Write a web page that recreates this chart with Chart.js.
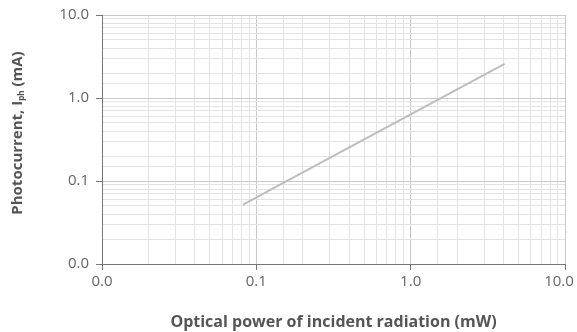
<!DOCTYPE html>
<html>
<head>
<meta charset="utf-8">
<script src="https://cdn.jsdelivr.net/npm/chart.js@4/dist/chart.umd.min.js"></script>
<style>
  html, body { margin: 0; padding: 0; background: #fff; }
  #wrap { width: 577px; height: 332px; }
</style>
</head>
<body>
<div id="wrap"><canvas id="chart"></canvas></div>
<script>
// Optical power (mW) vs photocurrent (mA)
const powerMW = [0.082, 0.2, 0.5, 1.0, 2.0, 4.06];
const currentMA = [0.052, 0.127, 0.318, 0.635, 1.27, 2.58];
const majorTicks = [0.01, 0.1, 1, 10];

const isMajor = v => majorTicks.some(m => Math.abs(v - m) < m * 1e-6);
const FONT = "'Open Sans', sans-serif";

Chart.defaults.font.family = FONT;

// y axis title drawn by hand so that "ph" can be a real subscript
const yTitle = {
    id: 'yTitle',
    afterDraw(chart) {
        const c = chart.ctx;
        const parts = [
            { t: 'Photocurrent, I', f: 'bold 15px ' + FONT, dy: 0 },
            { t: 'ph', f: 'bold 8px ' + FONT, dy: 4 },
            { t: ' (mA)', f: 'bold 15px ' + FONT, dy: 0 }
        ];
        let total = 0;
        parts.forEach(p => { c.font = p.f; p.w = c.measureText(p.t).width; total += p.w; });
        c.save();
        c.translate(18, 133);
        c.rotate(-Math.PI / 2);
        c.fillStyle = '#555';
        c.textBaseline = 'middle';
        c.textAlign = 'left';
        let x = -total / 2;
        parts.forEach(p => {
            c.font = p.f;
            c.fillText(p.t, x, p.dy);
            x += p.w;
        });
        c.restore();
    }
};

// keep the last x label ("10.0") inside the canvas
const keepLastLabel = {
    id: 'keepLastLabel',
    beforeDraw(chart) {
        const items = chart.scales.x.getLabelItems();
        const last = items[items.length - 1];
        if (last && last.options.translation[0] > chart.width - 18) {
            last.options.translation[0] = chart.width - 18;
        }
    }
};

function axisGrid() {
    return {
        color: c => isMajor(c.tick.value) ? '#c9c9c9' : '#e3e3e3',
        tickColor: c => isMajor(c.tick.value) ? '#777' : 'rgba(0,0,0,0)',
        tickLength: 6,
        lineWidth: 1
    };
}

const ctx = document.getElementById('chart').getContext('2d');
const chart = new Chart(ctx, {
    type: 'line',
    data: {
        datasets: [{
            data: powerMW.map((x, i) => ({ x: x, y: currentMA[i] })),
            borderColor: '#bdbdbd',
            borderWidth: 2,
            pointRadius: 0,
            fill: false,
            tension: 0
        }]
    },
    options: {
        responsive: true,
        maintainAspectRatio: false,
        animation: false,
        layout: { padding: { top: 15, right: 12, left: 0, bottom: 0 } },
        plugins: {
            legend: { display: false },
            tooltip: { enabled: false }
        },
        scales: {
            x: {
                type: 'logarithmic',
                min: 0.01,
                max: 10,
                border: { color: '#777', width: 1 },
                grid: axisGrid(),
                ticks: {
                    autoSkip: false,
                    maxRotation: 0,
                    color: '#666',
                    font: { size: 15 },
                    padding: 3,
                    callback: v => isMajor(v) ? v.toFixed(1) : ''
                },
                title: {
                    display: true,
                    text: 'Optical power of incident radiation (mW)',
                    color: '#555',
                    font: { size: 16, weight: 'bold' },
                    padding: { top: 11, bottom: 0 }
                },
                afterFit: s => {
                    s.height = 68;
                    s.paddingLeft = 0;
                    s.paddingRight = 0;
                }
            },
            y: {
                type: 'logarithmic',
                min: 0.01,
                max: 10,
                border: { color: '#777', width: 1 },
                grid: axisGrid(),
                ticks: {
                    autoSkip: false,
                    color: '#666',
                    font: { size: 15 },
                    padding: 7,
                    callback: v => isMajor(v) ? v.toFixed(1) : ''
                },
                afterFit: s => {
                    s.width = 102;
                    s.paddingTop = 0;
                    s.paddingBottom = 0;
                }
            }
        }
    },
    plugins: [yTitle, keepLastLabel]
});
</script>
</body>
</html>
